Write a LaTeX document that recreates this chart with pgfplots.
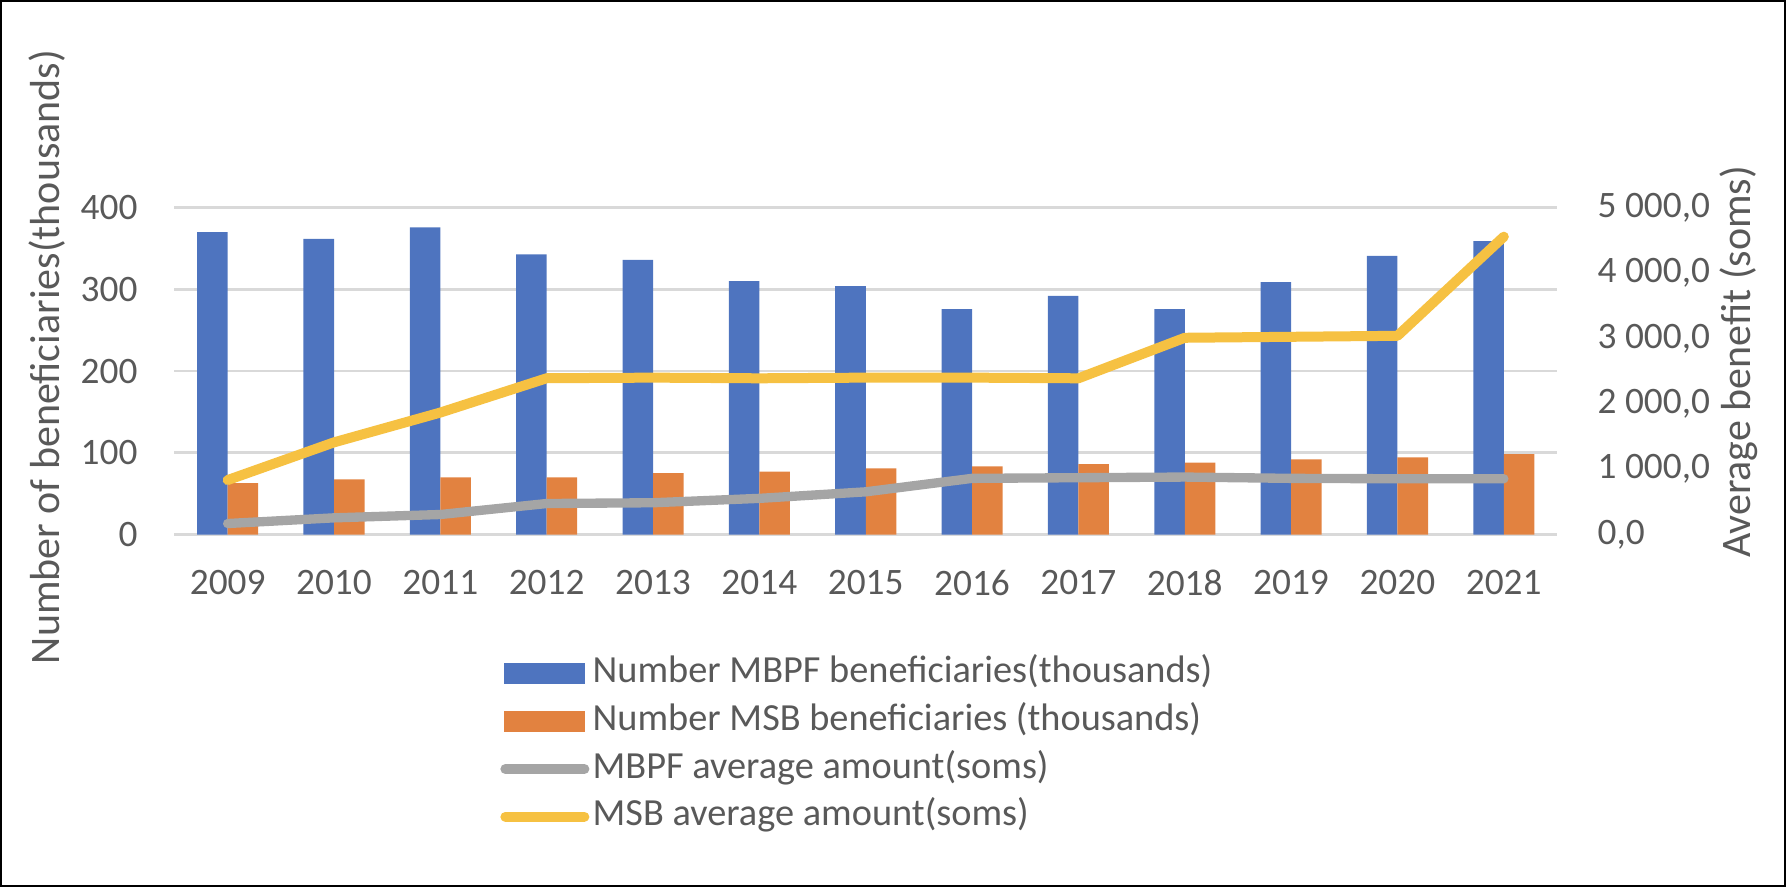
\documentclass[border=0pt]{standalone}
\usepackage{pgfplots}
\pgfplotsset{compat=1.18}
\usepackage{fontspec}
\setmainfont{Carlito}

\definecolor{barblue}{HTML}{4E74BF}
\definecolor{barorange}{HTML}{E28240}
\definecolor{linegray}{HTML}{A5A5A5}
\definecolor{lineyellow}{HTML}{F6C142}
\definecolor{txt}{HTML}{595959}
\definecolor{gridc}{HTML}{D9D9D9}

% values
\pgfplotstableread{
year mbpf msb  mbpfavg msbavg
2009 370  63   168     833
2010 362  67.5 255     1410
2011 376  70   306     1866
2012 343  70   474     2391
2013 336  75   486     2400
2014 310  77   553     2390
2015 304  81   653     2400
2016 276  83.5 859     2400
2017 292  86   869     2390
2018 276  88   879     3010
2019 309  92   859     3025
2020 341  94.5 853     3040
2021 359  98.5 853     4557
}\data

\pgfplotsset{
  base/.style={
    scale only axis,
    width=414.75pt, height=98.04pt,
    at={(52.35pt,105.75pt)}, anchor=south west,
    xmin=2008.5, xmax=2021.5,
    axis line style={draw=none},
    major tick length=0pt,
    /pgf/number format/assume math mode=true,
    tick label style={font=\fontsize{11.2}{13.4}\selectfont, text=txt, inner sep=0pt},
    label style={font=\fontsize{12.6}{15}\selectfont, text=txt},
  },
  barleg/.style={legend image code/.code={
    \path[draw=none, fill=none] (0pt,-4pt) rectangle (26.7pt,4pt);
    \fill[#1, draw=none] (1.2pt,-3.1pt) rectangle (25.5pt,3.1pt);}},
  lineleg/.style={legend image code/.code={
    \path[draw=none, fill=none] (0pt,-4pt) rectangle (26.7pt,4pt);
    \draw[#1, line width=3pt, line cap=round] (1.5pt,0pt) -- (25.2pt,0pt);}},
}

\begin{document}
\begin{tikzpicture}
\useasboundingbox (0,0) rectangle (535.8pt,266.1pt);

\begin{axis}[base,
  ymin=0, ymax=400, ytick={0,100,...,400},
  ymajorgrids, grid style={gridc, line width=0.8pt},
  xtick={2009,...,2021},
  xticklabel style={/pgf/number format/1000 sep=, anchor=center, yshift=-14.5pt},
  yticklabel style={anchor=east, xshift=-10.9pt},
  ybar, bar width=0.287,
  ylabel={Number of beneficiaries(thousands)},
  ylabel style={at={(axis description cs:-0.0919,0.543)}, anchor=center},
]
\addplot[fill=barblue, draw=none, bar shift=-0.1435] table[x=year, y=mbpf] {\data};
\addplot[fill=barorange, draw=none, bar shift=0.1435] table[x=year, y=msb] {\data};
\end{axis}

\begin{axis}[base,
  ymin=0, ymax=5000, ytick={0,1000,...,5000},
  axis y line*=right, axis x line=none,
  yticklabel style={anchor=west, xshift=12pt,
    /pgf/number format/.cd, fixed, fixed zerofill, precision=1, use comma, 1000 sep={\ }},
  ylabel={Average benefit (soms)},
  ylabel style={at={(axis description cs:1.1317,0.528)}, anchor=center},
  legend style={at={(axis description cs:0.228,-0.35)}, anchor=north west,
    draw=none, fill=none, row sep=3.8pt, column sep=1pt,
    font=\fontsize{11.5}{13.8}\selectfont, text=txt,
    nodes={inner sep=0pt, text height=8pt, text depth=2.5pt}},
  legend cell align=left,
]
\addlegendimage{barleg=barblue}
\addlegendentry{Number MBPF beneficiaries(thousands)}
\addlegendimage{barleg=barorange}
\addlegendentry{Number MSB beneficiaries (thousands)}
\addplot[linegray, line width=2.8pt, line cap=round, line join=round, lineleg=linegray]
  table[x=year, y=mbpfavg] {\data};
\addlegendentry{MBPF average amount(soms)}
\addplot[lineyellow, line width=3pt, line cap=round, line join=round, lineleg=lineyellow]
  table[x=year, y=msbavg] {\data};
\addlegendentry{MSB average amount(soms)}
\end{axis}

\draw[black, line width=0.6pt] (0.3pt,0.3pt) rectangle (535.5pt,265.8pt);
\end{tikzpicture}
\end{document}
